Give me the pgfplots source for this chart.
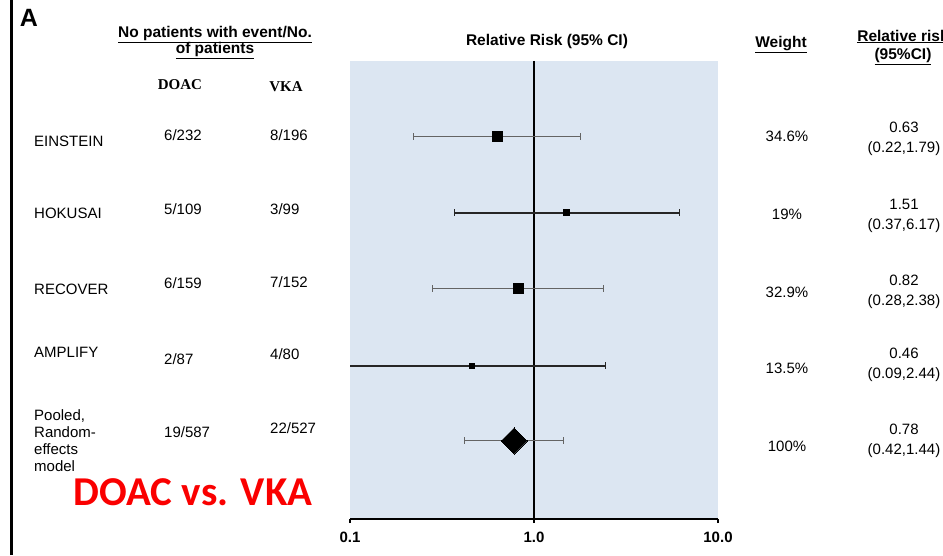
\documentclass[border=0pt]{standalone}
\usepackage{pgfplots}
\pgfplotsset{compat=1.18}
\usepackage{fontspec}
\setmainfont{Liberation Sans}
\newfontfamily\timesf{Liberation Serif}
\newfontfamily\calib{Carlito}
\definecolor{bgblue}{RGB}{220,230,242}
\definecolor{cigray}{RGB}{100,100,100}
\definecolor{redtxt}{RGB}{250,0,0}
% centred text at image pixel (x,y)
\newcommand{\C}[4][]{\node[inner sep=0pt,anchor=mid,#1] at (#2pt,{555pt-#3pt-1.5pt}) {#4};}
% left-aligned text at image pixel (x,y)
\newcommand{\Lt}[4][]{\node[inner sep=0pt,anchor=mid west,#1] at (#2pt,{555pt-#3pt-1.5pt}) {#4};}
\newcommand{\dfont}{\fontsize{15}{17}\selectfont}
\newcommand{\hfont}{\fontsize{15.5}{17}\selectfont\bfseries}
\begin{document}
\begin{tikzpicture}
\useasboundingbox (0pt,0pt) rectangle (943pt,555pt);
\fill[white] (0pt,0pt) rectangle (943pt,555pt);
\draw[line width=2.6pt] (11.5pt,0pt) -- (11.5pt,555pt);
\begin{axis}[
  at={(350pt,36pt)}, anchor=south west,
  width=368pt, height=458pt, scale only axis,
  xmode=log, xmin=0.1, xmax=10, ymin=-519, ymax=-61,
  axis x line*=bottom, axis y line=none,
  axis background/.style={fill=bgblue},
  xtick={0.1,1,10}, xticklabels={0.1,1.0,10.0},
  xminorticks=false, ytick=\empty,
  tick align=outside, major tick length=4pt,
  x axis line style={line width=1.4pt},
  every major tick/.append style={line width=1.2pt, black},
  xticklabel style={font=\fontsize{15}{17}\selectfont\bfseries, yshift=-5pt},
  clip=true,
]
% line of no effect
\addplot[black, line width=1.5pt] coordinates {(1,-61) (1,-519)};
% confidence intervals
\addplot[cigray, line width=1pt, mark=|, mark size=3.5pt, mark options={line width=1pt}] coordinates {(0.22,-137) (1.79,-137)};
\addplot[black!85, line width=1.4pt, mark=|, mark size=3.5pt, mark options={line width=1.2pt}] coordinates {(0.37,-213) (6.17,-213)};
\addplot[cigray, line width=1pt, mark=|, mark size=3.5pt, mark options={line width=1pt}] coordinates {(0.28,-289) (2.38,-289)};
\addplot[black!85, line width=1.4pt, mark=|, mark size=3.5pt, mark options={line width=1.2pt}] coordinates {(0.09,-366) (2.44,-366)};
\addplot[cigray, line width=1pt, mark=|, mark size=3.5pt, mark options={line width=1pt}] coordinates {(0.42,-441) (1.44,-441)};
% point estimates
\addplot[only marks, black, mark=square*, mark size=5pt, mark options={line width=0pt}] coordinates {(0.63,-137)};
\addplot[only marks, black, mark=square*, mark size=3pt, mark options={line width=0pt}] coordinates {(1.51,-213)};
\addplot[only marks, black, mark=square*, mark size=5pt, mark options={line width=0pt}] coordinates {(0.82,-289)};
\addplot[only marks, black, mark=square*, mark size=2.2pt, mark options={line width=0pt}] coordinates {(0.46,-366)};
\addplot[only marks, black, mark=square*, mark size=9.2pt, mark options={rotate=45, line width=0pt}] coordinates {(0.78,-441)};
\end{axis}
% panel letter
\C[font=\fontsize{25}{27}\selectfont\bfseries]{29}{22}{A}
% headers
\C[font=\hfont]{215}{33}{\underline{No patients with event/No.}}
\C[font=\hfont]{215}{49}{\underline{of patients}}
\C[font=\fontsize{15}{17}\selectfont\timesf\bfseries]{180}{85}{DOAC}
\C[font=\fontsize{15}{17}\selectfont\timesf\bfseries]{286}{87}{VKA}
\C[font=\fontsize{15.5}{17}\selectfont\bfseries]{547}{41}{Relative Risk (95\% CI)}
\C[font=\hfont]{781}{43}{\underline{Weight}}
\C[font=\hfont]{903}{37}{\underline{Relative risk}}
\C[font=\hfont]{903}{55}{\underline{(95\%CI)}}
% row labels
\Lt[font=\dfont]{34}{142}{EINSTEIN}
\Lt[font=\dfont]{34}{214}{HOKUSAI}
\Lt[font=\dfont]{34}{290}{RECOVER}
\Lt[font=\dfont]{34}{353}{AMPLIFY}
\Lt[font=\dfont]{34}{416}{Pooled,}
\Lt[font=\dfont]{34}{433}{Random-}
\Lt[font=\dfont]{34}{450}{effects}
\Lt[font=\dfont]{34}{467}{model}
% DOAC column
\Lt[font=\dfont]{164}{136}{6/232}
\Lt[font=\dfont]{164}{210}{5/109}
\Lt[font=\dfont]{164}{284}{6/159}
\Lt[font=\dfont]{164}{360}{2/87}
\Lt[font=\dfont]{164}{433}{19/587}
% VKA column
\Lt[font=\dfont]{270}{136}{8/196}
\Lt[font=\dfont]{270}{210}{3/99}
\Lt[font=\dfont]{270}{283}{7/152}
\Lt[font=\dfont]{270}{355}{4/80}
\Lt[font=\dfont]{270}{429}{22/527}
% weights
\C[font=\dfont]{787}{137}{34.6\%}
\C[font=\dfont]{787}{215}{19\%}
\C[font=\dfont]{787}{293}{32.9\%}
\C[font=\dfont]{787}{369}{13.5\%}
\C[font=\dfont]{787}{447}{100\%}
% relative risks
\C[font=\dfont]{904}{128}{0.63}
\C[font=\dfont]{904}{148}{(0.22,1.79)}
\C[font=\dfont]{904}{205}{1.51}
\C[font=\dfont]{904}{225}{(0.37,6.17)}
\C[font=\dfont]{904}{281}{0.82}
\C[font=\dfont]{904}{301}{(0.28,2.38)}
\C[font=\dfont]{904}{354}{0.46}
\C[font=\dfont]{904}{374}{(0.09,2.44)}
\C[font=\dfont]{904}{430}{0.78}
\C[font=\dfont]{904}{450}{(0.42,1.44)}
% red caption
\C[font=\fontsize{41}{45}\selectfont\calib\bfseries, text=redtxt]{193}{501}{DOAC vs. VKA}
\end{tikzpicture}
\end{document}
